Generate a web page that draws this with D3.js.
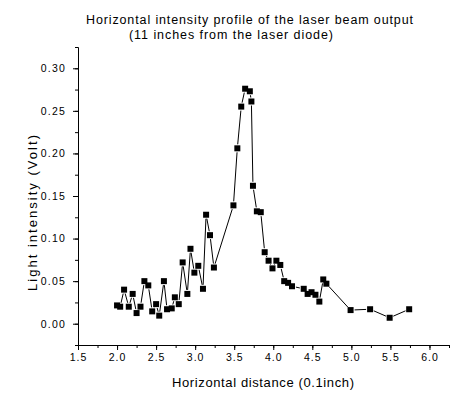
<!DOCTYPE html>
<html>
<head>
<meta charset="utf-8">
<script src="https://cdn.jsdelivr.net/npm/d3@7"></script>
<style>
  body { margin: 0; background: #fff; }
  text { font-family: "Liberation Sans", Arial, sans-serif; fill: #000; }
</style>
</head>
<body>
<div id="chart"></div>
<script>
const distance = [2.00, 2.04, 2.09, 2.15, 2.20, 2.25, 2.30, 2.35, 2.40, 2.45,
  2.50, 2.54, 2.60, 2.64, 2.70, 2.74, 2.79, 2.84, 2.90, 2.94,
  2.99, 3.04, 3.10, 3.14, 3.19, 3.24, 3.49, 3.54, 3.59, 3.64,
  3.70, 3.72, 3.74, 3.79, 3.84, 3.89, 3.94, 3.99, 4.04, 4.09,
  4.14, 4.19, 4.24, 4.39, 4.44, 4.49, 4.54, 4.59, 4.64, 4.68,
  4.99, 5.24, 5.49, 5.74];
const intensity = [0.0215, 0.020, 0.040, 0.020, 0.035, 0.0125, 0.020, 0.050, 0.045, 0.0145,
  0.023, 0.0095, 0.050, 0.017, 0.018, 0.031, 0.023, 0.072, 0.035, 0.088,
  0.060, 0.068, 0.041, 0.128, 0.104, 0.066, 0.139, 0.206, 0.255, 0.276,
  0.273, 0.261, 0.162, 0.132, 0.131, 0.084, 0.074, 0.065, 0.074, 0.069,
  0.050, 0.048, 0.044, 0.041, 0.035, 0.037, 0.034, 0.026, 0.052, 0.047,
  0.016, 0.017, 0.007, 0.017];

const xMajor = [1.5, 2.0, 2.5, 3.0, 3.5, 4.0, 4.5, 5.0, 5.5, 6.0];
const yMajor = [0.00, 0.05, 0.10, 0.15, 0.20, 0.25, 0.30];

const width = 461, height = 397;

const svg = d3.select("#chart").append("svg")
  .attr("width", width)
  .attr("height", height);

const x = d3.scaleLinear().domain([1.5, 6.25]).range([78, 449]);
const y = d3.scaleLinear().domain([-0.025, 0.325]).range([345, 47]);

const xMinor = d3.range(1.5, 6.26, 0.25);
const yMinor = d3.range(-0.025, 0.326, 0.025);

// minor ticks first, then the labelled ones
svg.append("g")
  .attr("transform", `translate(0,${y.range()[0]})`)
  .call(d3.axisBottom(x).tickValues(xMinor).tickSize(3).tickSizeOuter(0).tickFormat(""));
svg.append("g")
  .attr("transform", `translate(0,${y.range()[0]})`)
  .call(d3.axisBottom(x).tickValues(xMajor).tickSize(5).tickSizeOuter(0).tickPadding(4)
    .tickFormat(d3.format(".1f")))
  .call(g => g.selectAll("text").attr("font-size", 10.5).attr("letter-spacing", 1)
    .attr("font-family", "Liberation Sans, Arial, sans-serif"));

svg.append("g")
  .attr("transform", `translate(${x.range()[0]},0)`)
  .call(d3.axisLeft(y).tickValues(yMinor).tickSize(3).tickSizeOuter(0).tickFormat(""));
svg.append("g")
  .attr("transform", `translate(${x.range()[0]},0)`)
  .call(d3.axisLeft(y).tickValues(yMajor).tickSize(5).tickSizeOuter(0).tickPadding(7)
    .tickFormat(d3.format(".2f")))
  .call(g => g.selectAll("text").attr("font-size", 10.5).attr("letter-spacing", 1.2)
    .attr("font-family", "Liberation Sans, Arial, sans-serif"));

svg.selectAll(".domain").attr("stroke", "#000");
svg.selectAll(".tick line").attr("stroke", "#000");

// connecting line, broken a little around every symbol
const pts = distance.map((d, i) => [x(d), y(intensity[i])]);
const gap = 4;
const segs = [];
for (let i = 0; i < pts.length - 1; i++) {
  const [x0, y0] = pts[i], [x1, y1] = pts[i + 1];
  const len = Math.hypot(x1 - x0, y1 - y0);
  if (len <= gap * 2) continue;
  const ux = (x1 - x0) / len, uy = (y1 - y0) / len;
  segs.push([[x0 + ux * gap, y0 + uy * gap], [x1 - ux * gap, y1 - uy * gap]]);
}
svg.append("g").selectAll("line")
  .data(segs)
  .enter()
  .append("line")
  .attr("x1", d => d[0][0]).attr("y1", d => d[0][1])
  .attr("x2", d => d[1][0]).attr("y2", d => d[1][1])
  .attr("stroke", "#000")
  .attr("stroke-width", 1);

svg.append("g").selectAll("rect")
  .data(distance)
  .enter()
  .append("rect")
  .attr("x", d => x(d) - 3)
  .attr("y", (d, i) => y(intensity[i]) - 3)
  .attr("width", 6)
  .attr("height", 6)
  .attr("fill", "#000");

// titles
svg.append("text")
  .attr("x", 86).attr("y", 24)
  .attr("font-size", 12.5)
  .attr("textLength", 327).attr("lengthAdjust", "spacing")
  .text("Horizontal intensity profile of the laser beam output");
svg.append("text")
  .attr("x", 129).attr("y", 39)
  .attr("font-size", 12.5)
  .attr("textLength", 204).attr("lengthAdjust", "spacing")
  .text("(11 inches from the laser diode)");

svg.append("text")
  .attr("x", 172).attr("y", 387)
  .attr("font-size", 13)
  .attr("textLength", 182).attr("lengthAdjust", "spacing")
  .text("Horizontal distance (0.1inch)");

svg.append("text")
  .attr("transform", "translate(37,291) rotate(-90)")
  .attr("font-size", 13)
  .attr("textLength", 156).attr("lengthAdjust", "spacing")
  .text("Light intensity (Volt)");
</script>
</body>
</html>
